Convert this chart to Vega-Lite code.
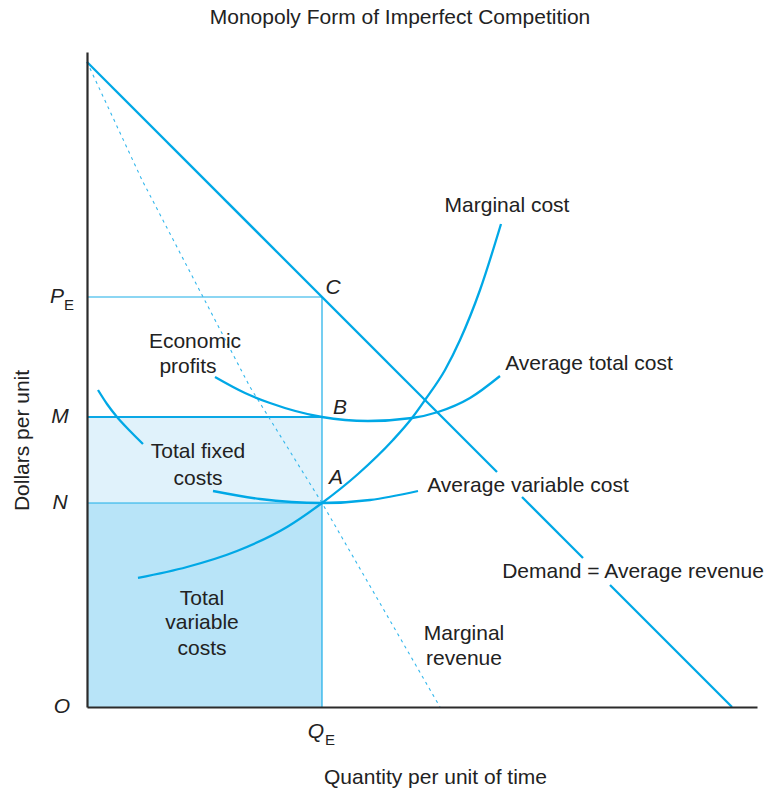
{
  "$schema": "https://vega.github.io/schema/vega-lite/v6.json",
  "width": 670,
  "height": 655,
  "autosize": {"type": "none"},
  "padding": {"left": 87, "top": 52, "right": 11, "bottom": 83},
  "background": "white",
  "config": {"view": {"stroke": null}, "font": "Liberation Sans"},
  "title": {"text": "Monopoly Form of Imperfect Competition", "fontSize": 21, "fontWeight": "normal", "font": "Liberation Sans", "color": "#222", "anchor": "middle", "dx": -22, "offset": 24},
  "datasets": {
    "rects": [
      {"part": "fixed", "x": 0, "x2": 235, "y": 204, "y2": 290},
      {"part": "variable", "x": 0, "x2": 235, "y": 0, "y2": 204}
    ],
    "thinrules": [
      {"x": 0, "x2": 235, "y": 410, "y2": 410},
      {"x": 0, "x2": 235, "y": 204, "y2": 204},
      {"x": 235, "x2": 235, "y": 0, "y2": 410}
    ],
    "thickrules": [
      {"x": 0, "x2": 235, "y": 290, "y2": 290}
    ],
    "mr": [
      {"x": 0, "y": 645}, {"x": 55, "y": 527}, {"x": 163, "y": 320}, {"x": 235, "y": 204}, {"x": 353, "y": 0}
    ],
    "curves": [
      {"curve": "D1", "x": 0, "y": 645}, {"curve": "D1", "x": 410, "y": 235},
      {"curve": "D2", "x": 435, "y": 210}, {"curve": "D2", "x": 496, "y": 149},
      {"curve": "D3", "x": 523, "y": 122}, {"curve": "D3", "x": 645, "y": 0},
      {"curve": "MC", "x": 51, "y": 129}, {"curve": "MC", "x": 100, "y": 140}, {"curve": "MC", "x": 150, "y": 156},
      {"curve": "MC", "x": 200, "y": 180}, {"curve": "MC", "x": 235, "y": 204}, {"curve": "MC", "x": 271, "y": 233}, {"curve": "MC", "x": 306, "y": 267},
      {"curve": "MC", "x": 325, "y": 289}, {"curve": "MC", "x": 338, "y": 307}, {"curve": "MC", "x": 358, "y": 337},
      {"curve": "MC", "x": 373, "y": 367}, {"curve": "MC", "x": 393, "y": 417}, {"curve": "MC", "x": 414, "y": 483},
      {"curve": "AVC", "x": 126, "y": 216}, {"curve": "AVC", "x": 173, "y": 208}, {"curve": "AVC", "x": 235, "y": 204},
      {"curve": "AVC", "x": 283, "y": 207}, {"curve": "AVC", "x": 331, "y": 216},
      {"curve": "ATC", "x": 128, "y": 330}, {"curve": "ATC", "x": 158, "y": 314}, {"curve": "ATC", "x": 183, "y": 304},
      {"curve": "ATC", "x": 235, "y": 290}, {"curve": "ATC", "x": 281, "y": 286}, {"curve": "ATC", "x": 325, "y": 289},
      {"curve": "ATC", "x": 351, "y": 295}, {"curve": "ATC", "x": 383, "y": 309}, {"curve": "ATC", "x": 413, "y": 331},
      {"curve": "TFC", "x": 11, "y": 317}, {"curve": "TFC", "x": 20, "y": 303}, {"curve": "TFC", "x": 30, "y": 290},
      {"curve": "TFC", "x": 43, "y": 276}, {"curve": "TFC", "x": 56, "y": 263}
    ],
    "labels": [
      {"x": 420, "y": 501, "text": "Marginal cost"},
      {"x": 108, "y": 365, "text": "Economic"},
      {"x": 101, "y": 340, "text": "profits"},
      {"x": 502, "y": 343, "text": "Average total cost"},
      {"x": 111, "y": 255, "text": "Total fixed"},
      {"x": 111, "y": 228, "text": "costs"},
      {"x": 441, "y": 221, "text": "Average variable cost"},
      {"x": 546, "y": 135, "text": "Demand = Average revenue"},
      {"x": 115, "y": 108, "text": "Total"},
      {"x": 115, "y": 84, "text": "variable"},
      {"x": 115, "y": 58, "text": "costs"},
      {"x": 377, "y": 73, "text": "Marginal"},
      {"x": 377, "y": 48, "text": "revenue"}
    ],
    "italics": [
      {"x": 246, "y": 419, "text": "C"},
      {"x": 253, "y": 299, "text": "B"},
      {"x": 249, "y": 229, "text": "A"},
      {"x": -30, "y": 410, "text": "P"},
      {"x": -27, "y": 290, "text": "M"},
      {"x": -27, "y": 204, "text": "N"},
      {"x": -25, "y": 0, "text": "O"},
      {"x": 229, "y": -25, "text": "Q"}
    ],
    "subs": [
      {"x": -18, "y": 402, "text": "E"},
      {"x": 243, "y": -33, "text": "E"}
    ]
  },
  "encoding": {
    "x": {"field": "x", "type": "quantitative", "scale": {"domain": [0, 670], "nice": false, "zero": false},
      "axis": {"title": "Quantity per unit of time", "ticks": false, "labels": false, "grid": false, "domainColor": "#2b2b2b", "domainWidth": 2.2, "zindex": 1,
        "titleFontSize": 21, "titleFont": "Liberation Sans", "titleFontWeight": "normal", "titleColor": "#222", "titleX": 348, "titleY": 70, "titleAlign": "center", "titleBaseline": "middle"}},
    "y": {"field": "y", "type": "quantitative", "scale": {"domain": [0, 655], "nice": false, "zero": false},
      "axis": {"title": "Dollars per unit", "ticks": false, "labels": false, "grid": false, "domainColor": "#2b2b2b", "domainWidth": 2.2, "zindex": 1,
        "titleFontSize": 21, "titleFont": "Liberation Sans", "titleFontWeight": "normal", "titleColor": "#222", "titleX": -65, "titleY": 388, "titleAngle": -90, "titleAlign": "center", "titleBaseline": "middle"}}
  },
  "layer": [
    {"data": {"name": "rects"}, "mark": {"type": "rect"},
      "encoding": {"x2": {"field": "x2"}, "y2": {"field": "y2"},
        "color": {"field": "part", "type": "nominal", "scale": {"domain": ["fixed", "variable"], "range": ["#e0f2fb", "#b8e4f8"]}, "legend": null}}},
    {"data": {"name": "thinrules"}, "mark": {"type": "rule", "color": "#1aaee8", "strokeWidth": 1.2},
      "encoding": {"x2": {"field": "x2"}, "y2": {"field": "y2"}}},
    {"data": {"name": "thickrules"}, "mark": {"type": "rule", "color": "#0aa8e6", "strokeWidth": 2},
      "encoding": {"x2": {"field": "x2"}, "y2": {"field": "y2"}}},
    {"data": {"name": "mr"}, "mark": {"type": "line", "color": "#33b7ec", "strokeWidth": 1.1, "strokeDash": [3, 4]},
      "encoding": {}},
    {"data": {"name": "curves"}, "mark": {"type": "line", "color": "#00a8e6", "strokeWidth": 2.3, "interpolate": "monotone"},
      "encoding": {"detail": {"field": "curve", "type": "nominal"}}},
    {"data": {"name": "labels"}, "mark": {"type": "text", "fontSize": 21, "color": "#222", "align": "center", "baseline": "middle", "font": "Liberation Sans"},
      "encoding": {"text": {"field": "text"}}},
    {"data": {"name": "italics"}, "mark": {"type": "text", "fontSize": 21, "fontStyle": "italic", "color": "#222", "align": "center", "baseline": "middle", "font": "Liberation Sans"},
      "encoding": {"text": {"field": "text"}}},
    {"data": {"name": "subs"}, "mark": {"type": "text", "fontSize": 15, "color": "#222", "align": "center", "baseline": "middle", "font": "Liberation Sans"},
      "encoding": {"text": {"field": "text"}}}
  ]
}
